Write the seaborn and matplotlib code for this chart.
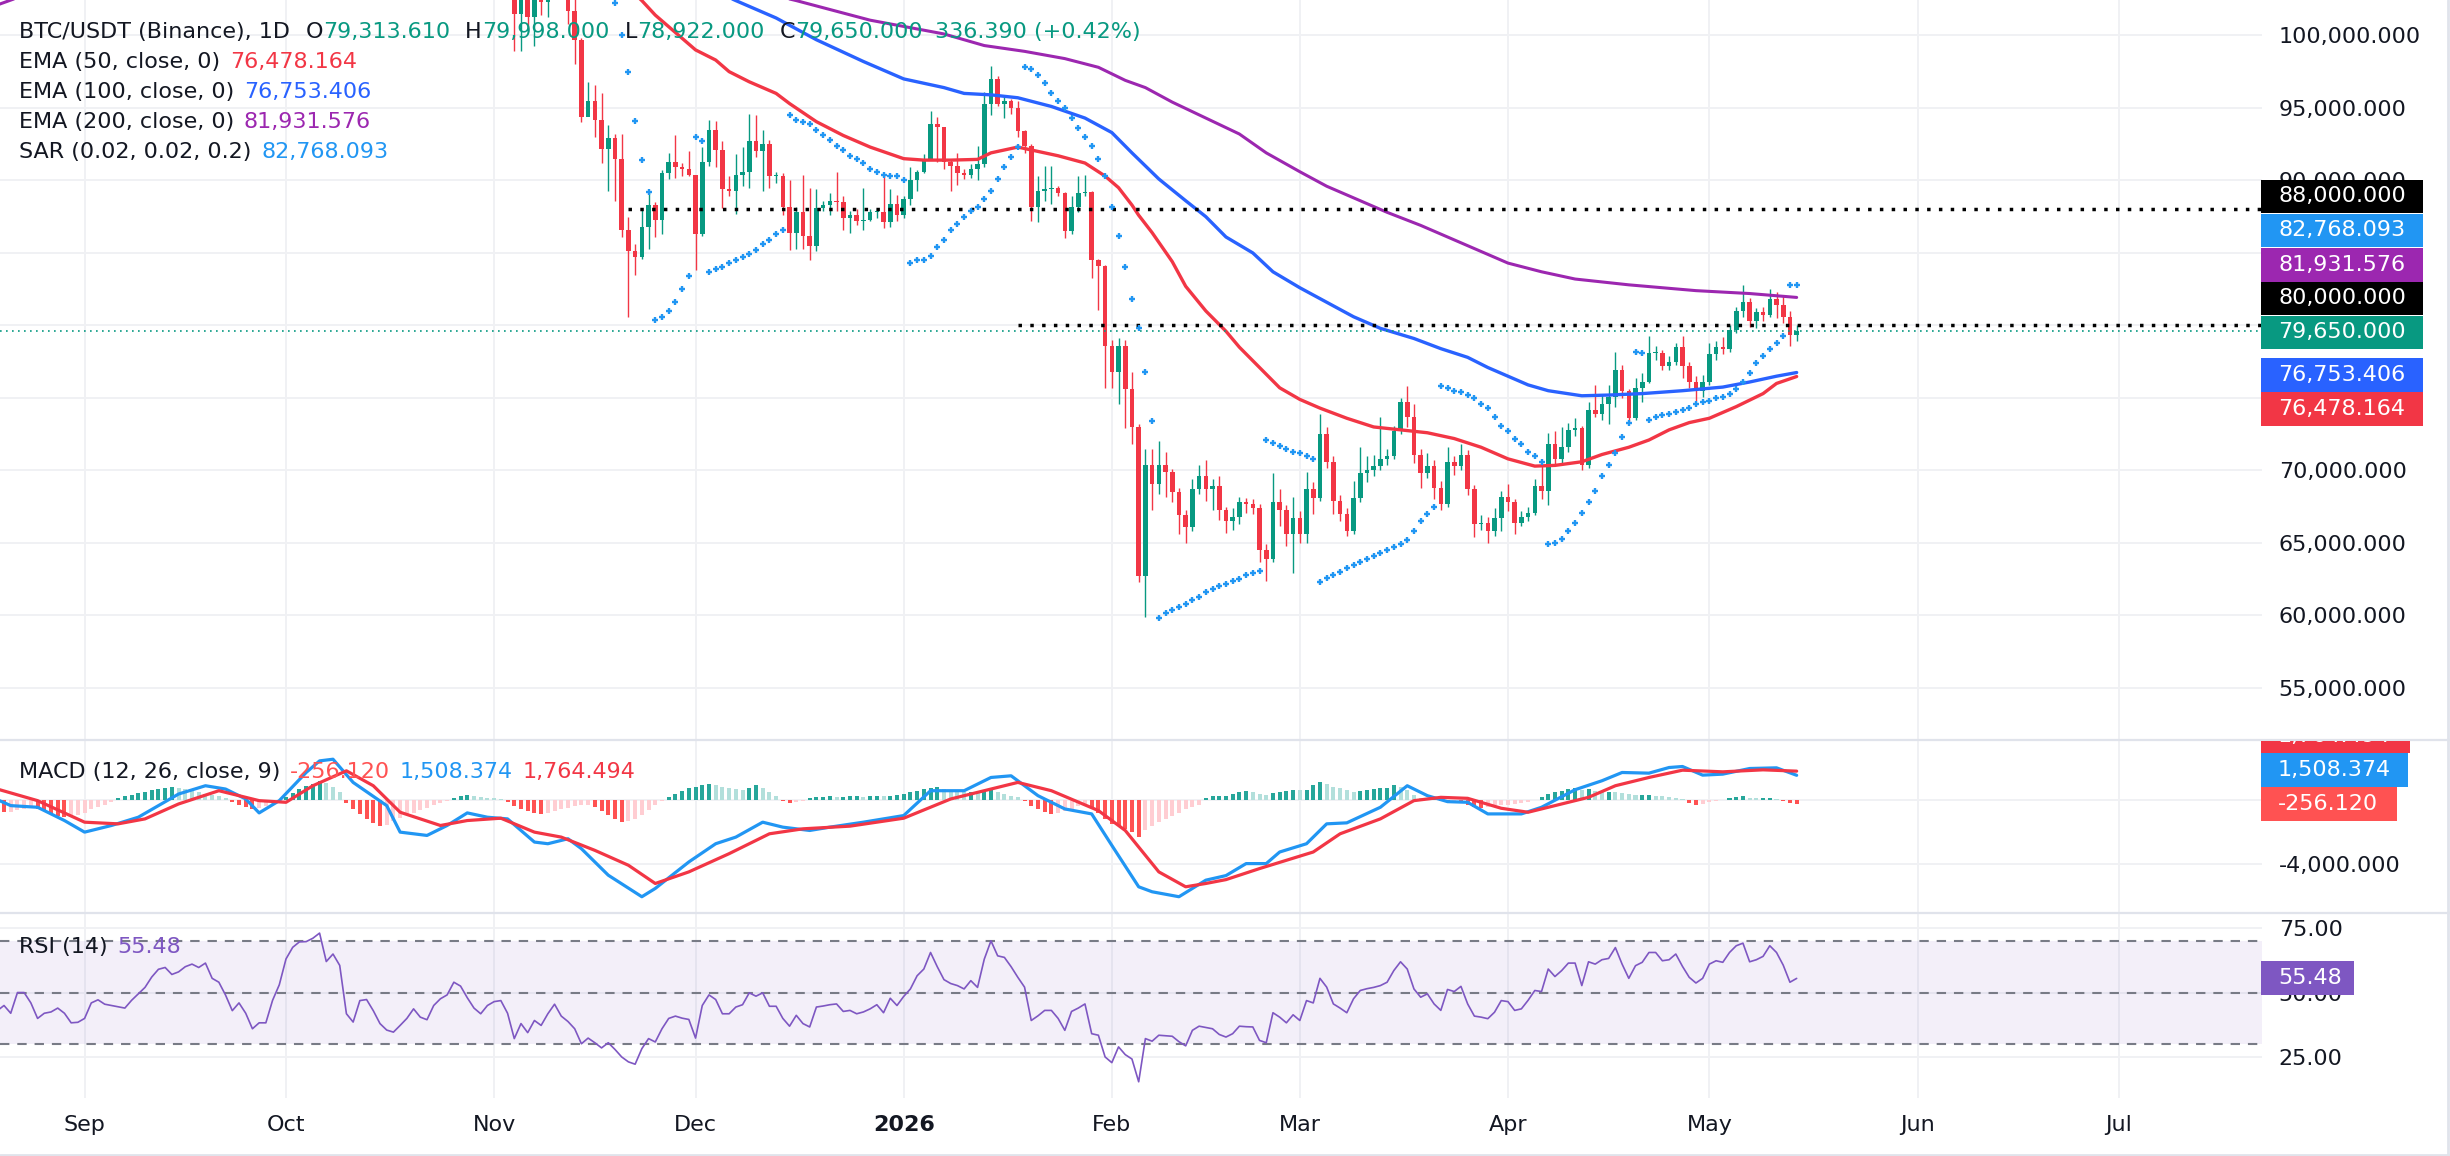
import numpy as np
import pandas as pd
import matplotlib
matplotlib.use("Agg")
import matplotlib.pyplot as plt
import matplotlib.dates as mdates
from matplotlib.patches import Rectangle
from matplotlib.lines import Line2D
from matplotlib.ticker import FuncFormatter
from matplotlib.transforms import Bbox
import seaborn as sns

# ---------------- data (prices in thousands of USDT) ----------------
bar_start = "2025-11-04"
first_open = 106.6
close_k = [
    # Nov 4-30
    101.5, 103.9, 101.3, 103.3, 102.3, 104.7, 106.0, 103.1, 101.7, 99.7, 94.4, 95.5, 94.2, 92.2,
    92.9, 91.5, 86.6, 85.1, 84.7, 86.8, 88.3, 87.3, 90.5, 91.3, 90.9, 90.8, 90.4,
    # Dec
    86.3, 91.3, 93.5, 92.1, 89.4, 89.3, 90.4, 90.6, 92.7, 92.0, 92.5, 90.3, 90.3, 88.2, 86.4, 87.8,
    86.2, 85.5, 88.1, 88.3, 88.6, 88.5, 87.4, 87.6, 87.2, 87.3, 87.8, 87.8, 87.1, 88.4, 87.6,
    # Jan
    88.7, 90.0, 90.6, 91.5, 93.9, 93.7, 91.3, 91.0, 90.5, 90.4, 90.8, 91.1, 95.3, 97.0, 95.3, 95.5,
    95.0, 93.4, 92.4, 88.2, 89.3, 89.4, 89.5, 89.1, 86.5, 88.2, 89.1, 89.2, 84.5, 84.1, 78.6,
    # Feb
    76.8, 78.6, 75.6, 73.0, 62.7, 70.4, 69.1, 70.4, 69.9, 68.5, 66.9, 66.1, 68.7, 69.6, 68.7, 68.9,
    67.3, 66.5, 66.8, 67.8, 67.7, 67.4, 64.5, 63.9, 67.8, 67.3, 65.6, 66.7,
    # Mar
    65.6, 68.7, 68.1, 72.5, 70.6, 67.9, 67.0, 65.8, 68.1, 69.8, 70.0, 70.3, 70.8, 71.0, 72.7, 74.7,
    73.7, 71.1, 69.8, 70.3, 68.8, 67.7, 70.6, 70.3, 71.1, 68.7, 66.3, 66.4, 65.8, 66.7, 68.2,
    # Apr
    67.8, 66.4, 66.8, 67.1, 68.9, 68.6, 71.8, 70.8, 71.6, 72.8, 72.9, 70.4, 74.2, 73.9, 74.6, 75.1,
    76.9, 75.5, 73.6, 75.7, 76.1, 78.1, 78.1, 77.2, 77.5, 78.5, 77.2, 76.1, 75.5, 76.1,
    # May
    78.0, 78.5, 78.4, 79.7, 81.0, 81.6, 80.3, 80.9, 80.7, 81.8, 81.4, 80.6, 79.31361, 79.65,
]
high_k = [
    107.3, 104.5, 104.2, 104.1, 103.4, 105.0, 106.7, 107.5, 105.3, 104.1, 99.8, 96.8, 96.6, 96.0,
    93.8, 93.2, 93.2, 87.5, 85.6, 88.0, 89.2, 88.5, 90.7, 91.9, 93.1, 91.2, 92.0,
    90.4, 92.3, 94.2, 94.1, 92.7, 90.3, 91.8, 92.3, 94.6, 94.5, 93.5, 92.8, 90.6, 90.5, 90.0, 88.2,
    90.4, 89.5, 89.4, 88.6, 89.1, 90.6, 88.9, 87.9, 88.0, 89.5, 88.0, 88.0, 90.4, 89.4, 89.0,
    88.9, 90.9, 90.7, 91.8, 94.8, 94.4, 93.7, 91.5, 91.9, 90.8, 91.1, 92.4, 96.1, 97.9, 97.2, 95.9,
    95.6, 95.5, 93.5, 92.5, 90.3, 91.0, 91.0, 89.6, 89.2, 88.9, 90.3, 90.4, 89.3, 84.6, 84.2,
    79.0, 79.1, 79.0, 76.8, 73.2, 71.5, 71.5, 72.0, 71.3, 70.1, 68.8, 67.3, 69.4, 70.4, 70.7, 69.4,
    69.6, 67.5, 67.4, 68.2, 68.1, 68.0, 67.7, 64.9, 69.8, 68.7, 67.6, 68.2,
    67.2, 69.9, 69.2, 73.9, 73.0, 71.0, 68.3, 67.4, 69.3, 71.6, 71.0, 71.1, 73.7, 71.5, 73.1, 75.0,
    75.8, 74.6, 71.5, 71.2, 70.7, 69.3, 71.6, 71.0, 71.8, 71.4, 69.0, 66.9, 66.8, 67.4, 68.6,
    69.1, 68.0, 67.2, 67.5, 69.4, 70.3, 72.6, 72.7, 73.0, 73.3, 73.6, 73.1, 74.75, 75.9, 75.2, 75.9,
    78.2, 77.3, 75.6, 76.4, 76.7, 79.3, 78.6, 78.3, 77.9, 78.8, 79.3, 77.5, 76.5, 76.6,
    78.8, 78.9, 79.2, 80.0, 81.3, 82.77, 81.9, 81.2, 81.3, 82.5, 82.3, 82.1, 81.0, 79.998,
]
low_k = [
    98.9, 98.9, 100.3, 99.3, 101.4, 101.3, 104.3, 102.5, 100.8, 98.0, 94.0, 94.5, 93.0, 91.2,
    89.3, 88.6, 86.1, 80.6, 83.5, 84.6, 85.3, 86.1, 86.3, 90.1, 90.2, 90.3, 90.3,
    83.8, 86.2, 91.0, 90.9, 88.1, 88.9, 87.7, 89.6, 89.5, 91.6, 89.3, 89.5, 89.8, 87.6, 85.2, 85.3,
    85.3, 84.5, 85.1, 87.9, 87.6, 87.9, 86.6, 86.4, 86.9, 86.6, 87.2, 87.4, 86.7, 86.8, 87.2,
    87.4, 88.3, 89.3, 90.5, 91.5, 91.3, 90.8, 89.3, 89.7, 90.1, 90.2, 90.0, 90.9, 94.5, 95.1, 94.3,
    94.6, 93.0, 91.9, 87.2, 87.1, 88.6, 88.4, 88.9, 86.0, 86.3, 87.8, 88.9, 83.3, 81.05, 75.7,
    75.7, 74.6, 72.9, 71.8, 62.3, 59.9, 67.3, 68.4, 68.2, 67.8, 65.6, 65.0, 65.8, 68.4, 67.9, 67.3,
    66.6, 65.7, 65.9, 66.3, 67.1, 67.0, 63.7, 62.4, 63.7, 66.2, 64.8, 62.9,
    65.0, 65.0, 67.0, 67.9, 70.2, 67.0, 66.5, 65.5, 65.6, 67.8, 69.2, 69.6, 70.0, 70.4, 70.8, 72.5,
    73.0, 70.5, 68.8, 69.5, 68.0, 67.3, 67.5, 69.7, 70.0, 68.3, 65.4, 65.9, 65.0, 65.5, 65.8,
    67.2, 65.6, 66.2, 66.5, 66.9, 68.0, 67.6, 70.4, 70.4, 71.3, 72.4, 70.0, 70.2, 73.7, 73.5, 73.2,
    74.4, 75.0, 73.4, 73.5, 74.7, 76.0, 77.6, 76.9, 76.9, 77.3, 76.4, 75.7, 74.8, 75.1,
    75.9, 77.6, 78.0, 78.2, 79.5, 80.6, 79.9, 79.8, 80.3, 80.6, 80.5, 80.2, 78.6, 78.922,
]

sar_start = "2025-11-19"
sar_k = [
    102.2, 100.0, 97.5, 94.1, 91.4, 89.2, 80.4, 80.6, 81.0, 81.6, 82.5, 83.4,
    93.0, 92.7, 83.7, 83.9, 84.0, 84.3, 84.5, 84.7, 84.9, 85.2, 85.6, 85.9, 86.3, 86.6,
    94.5, 94.2, 94.0, 93.9, 93.5, 93.1, 92.8, 92.4, 92.1, 91.7, 91.5, 91.2, 90.8, 90.6, 90.4, 90.3, 90.3,
    90.0, 84.3, 84.5, 84.5, 84.8, 85.4, 85.9, 86.6, 87.0, 87.5, 87.9, 88.2, 88.7, 89.3, 90.1, 90.9,
    91.6, 92.3, 97.8, 97.7, 97.3, 96.7, 96.0, 95.5, 95.0, 94.3, 93.6, 93.0, 92.4, 91.5, 90.3,
    88.2, 86.2, 84.0, 81.8, 79.8, 76.8, 73.4, 59.8, 60.2, 60.4, 60.6, 60.8, 61.1, 61.3, 61.6, 61.8,
    62.0, 62.2, 62.4, 62.5, 62.8, 62.9, 63.1, 72.1, 71.9, 71.7, 71.5, 71.3,
    71.2, 71.0, 70.8, 62.3, 62.6, 62.8, 63.0, 63.3, 63.5, 63.7, 63.9, 64.1, 64.3, 64.5, 64.7, 64.9,
    65.2, 65.8, 66.5, 67.0, 67.5, 75.8, 75.7, 75.5, 75.4, 75.2, 75.0, 74.6, 74.3, 73.7, 73.1,
    72.7, 72.2, 71.8, 71.3, 71.0, 70.6, 64.9, 65.0, 65.3, 65.8, 66.4, 67.1, 67.8, 68.6, 69.6, 70.4,
    71.2, 72.3, 73.3, 78.2, 78.1, 73.5, 73.7, 73.8, 73.9, 74.0, 74.2, 74.3, 74.6, 74.7,
    74.8, 75.0, 75.1, 75.3, 75.6, 76.1, 76.7, 77.4, 77.9, 78.4, 78.8, 79.3, 82.8, 82.768,
]

ema50_dates = ["2025-08-19", "2025-10-01", "2025-10-25", "2025-11-05", "2025-11-15", "2025-11-23",
               "2025-11-25", "2025-12-01", "2025-12-04", "2025-12-06", "2025-12-09", "2025-12-13",
               "2025-12-15", "2025-12-19", "2025-12-23", "2025-12-27", "2026-01-01", "2026-01-04",
               "2026-01-08", "2026-01-12", "2026-01-14", "2026-01-18", "2026-01-24", "2026-01-28",
               "2026-01-31", "2026-02-02", "2026-02-04", "2026-02-05", "2026-02-07", "2026-02-10",
               "2026-02-12", "2026-02-15", "2026-02-18", "2026-02-20", "2026-02-23", "2026-02-26",
               "2026-03-01", "2026-03-04", "2026-03-08", "2026-03-12", "2026-03-16", "2026-03-20",
               "2026-03-24", "2026-03-28", "2026-04-01", "2026-04-05", "2026-04-08", "2026-04-12",
               "2026-04-15", "2026-04-19", "2026-04-22", "2026-04-25", "2026-04-28", "2026-05-01",
               "2026-05-05", "2026-05-09", "2026-05-11", "2026-05-14"]
ema50_k = [113.5, 113.8, 112.5, 110.0, 105.8, 102.4, 101.4, 99.0, 98.3, 97.5, 96.8, 96.0, 95.3,
           94.05, 93.1, 92.3, 91.5, 91.4, 91.4, 91.45, 91.9, 92.3, 91.7, 91.2, 90.3, 89.5, 88.3,
           87.6, 86.4, 84.4, 82.7, 81.0, 79.6, 78.5, 77.1, 75.7, 74.9, 74.3, 73.6, 73.0, 72.8, 72.6,
           72.2, 71.6, 70.8, 70.3, 70.35, 70.6, 71.1, 71.6, 72.1, 72.8, 73.3, 73.6, 74.4, 75.3,
           76.0, 76.478]

ema100_dates = ["2025-08-19", "2025-10-01", "2025-11-01", "2025-11-20", "2025-12-07", "2025-12-13",
                "2025-12-19", "2025-12-26", "2026-01-01", "2026-01-07", "2026-01-10", "2026-01-14",
                "2026-01-18", "2026-01-23", "2026-01-28", "2026-02-01", "2026-02-04", "2026-02-08",
                "2026-02-12", "2026-02-15", "2026-02-18", "2026-02-22", "2026-02-25", "2026-03-01",
                "2026-03-05", "2026-03-09", "2026-03-13", "2026-03-18", "2026-03-22", "2026-03-26",
                "2026-03-29", "2026-04-01", "2026-04-04", "2026-04-07", "2026-04-12", "2026-04-16",
                "2026-04-21", "2026-04-27", "2026-05-03", "2026-05-07", "2026-05-11", "2026-05-14"]
ema100_k = [109.0, 111.0, 111.0, 106.0, 102.4, 101.2, 99.7, 98.2, 97.0, 96.4, 96.0, 95.9, 95.7,
            95.1, 94.3, 93.3, 91.9, 90.1, 88.6, 87.5, 86.1, 85.0, 83.7, 82.6, 81.6, 80.6, 79.8,
            79.1, 78.4, 77.8, 77.1, 76.5, 75.9, 75.5, 75.15, 75.2, 75.3, 75.5, 75.75, 76.1, 76.5,
            76.753]

ema200_dates = ["2025-08-19", "2025-08-22", "2025-09-20", "2025-10-20", "2025-11-15", "2025-12-05",
                "2025-12-16", "2025-12-27", "2026-01-07", "2026-01-13", "2026-01-19", "2026-01-25",
                "2026-01-30", "2026-02-03", "2026-02-06", "2026-02-10", "2026-02-15", "2026-02-20",
                "2026-02-24", "2026-03-01", "2026-03-05", "2026-03-10", "2026-03-14", "2026-03-19",
                "2026-03-23", "2026-03-28", "2026-04-01", "2026-04-06", "2026-04-11", "2026-04-19",
                "2026-04-29", "2026-05-07", "2026-05-14"]
ema200_k = [102.1, 102.6, 104.5, 106.8, 106.5, 103.6, 102.4, 101.05, 100.1, 99.3, 98.9, 98.4, 97.8,
            96.9, 96.4, 95.4, 94.3, 93.2, 91.9, 90.6, 89.6, 88.6, 87.8, 86.9, 86.1, 85.1, 84.3,
            83.7, 83.2, 82.8, 82.4, 82.2, 81.932]

# daily oscillators, Aug 19 2025 .. May 14 2026
osc_start = "2025-08-19"
rsi = [
    43, 45, 42, 50, 50, 46, 40, 42, 42.5, 44, 42, 38.3, 38.5,
    40, 46, 47.2, 45.5, 45, 44.5, 44, 47, 49.5, 52, 56, 59, 59.7, 57, 58, 60, 61, 59.7, 61.4, 55.5,
    54, 49, 43, 46, 42, 36, 38.3, 38.3, 47, 53,
    63, 67.5, 69.6, 69.7, 71, 73, 62, 64.9, 60.5, 41.8, 38.6, 46.9, 47.3, 43, 38, 35.5, 34.7, 37.3,
    40, 43.7, 40.5, 39.5, 45, 47.6, 49.1, 54, 52.5, 48, 44, 41.8, 45,
    46.5, 46.9, 42, 32.2, 38, 34.5, 39.2, 37.3, 41.8, 45.5, 40.9, 38.8, 36, 30.2, 32.4, 30.6, 28.6,
    30.6, 28, 25.1, 23.2, 22.3, 28.3, 32.2, 30.9, 36, 40, 40.9, 40.1, 39.6,
    32.4, 45, 49.1, 47.3, 41.8, 41.8, 44.4, 45.3, 49.9, 48.6, 49.9, 44.7, 44.7, 40, 37, 41.2, 38,
    36.7, 44.4, 44.8, 45.3, 45.6, 42.7, 43.1, 41.8, 42.5, 43.7, 45.3, 42.2, 47.8, 45,
    48.5, 51.4, 56.5, 59.1, 65.5, 60, 55, 53.5, 52.7, 51.4, 54.6, 52, 62.9, 70.0, 64.2, 63.6, 60,
    55.9, 52.1, 39.2, 41, 43.1, 43.1, 40, 35.4, 42.7, 44, 45.6, 34.1, 33.5, 25.1,
    22.9, 29, 26, 24.3, 15.5, 32.2, 31.2, 33.5, 33.3, 33.1, 31, 29.4, 35.4, 37, 36.5, 36, 33.8,
    32.8, 34.1, 37, 36.8, 36.7, 31.5, 30.6, 42.2, 40.5, 38.3, 41.4,
    39.2, 46.9, 46, 55.5, 52.1, 45.6, 44, 42.2, 47.6, 50.8, 51.5, 52, 52.7, 54, 58.5, 61.9, 59.1,
    51.4, 48.2, 49.5, 45.6, 43.1, 51.2, 50.4, 52.4, 45.6, 40.9, 40.5, 39.9, 42.4, 46.9,
    46.5, 43.1, 43.7, 47, 50.8, 50.4, 59.1, 56.2, 58.5, 61.4, 61.4, 52.7, 61.9, 61, 62.7, 63.2,
    67.4, 61, 55.5, 60.4, 61.7, 65.5, 65.5, 62.3, 62.7, 64.9, 60.1, 55.9, 53.7, 55.5,
    61, 62.3, 61.7, 65.5, 68.1, 69.1, 61.9, 62.7, 64, 68.1, 65.5, 60.6, 54, 55.48,
]
macd_hist = [
    -700, -780, -760, -650, -550, -500, -600, -700, -900, -1000, -1100, -1050, -950,
    -800, -600, -450, -300, -150, 100, 200, 300, 400, 500, 600, 650, 700, 760, 720, 650, 550, 450,
    350, 280, 200, 100, -150, -300, -450, -570, -500, -380, -250, -100,
    150, 400, 650, 850, 1000, 1170, 1050, 800, 450, -200, -600, -900, -1200, -1450, -1600, -1550,
    -1350, -1150, -950, -800, -650, -500, -350, -220, -100, 100, 200, 300, 250, 150, 100,
    80, 50, -150, -400, -550, -700, -800, -880, -800, -700, -600, -500, -400, -350, -300, -450,
    -700, -950, -1200, -1400, -1350, -1200, -950, -650, -350, -100, 150, 350, 550, 700,
    800, 880, 960, 900, 800, 700, 650, 600, 700, 900, 750, 500, 250, -100, -200, -150, -100, 100,
    150, 150, 200, 150, 150, 200, 200, 150, 200, 250, 200, 250, 300,
    350, 450, 550, 650, 700, 760, 650, 600, 550, 500, 500, 450, 550, 600, 450, 350, 250, 150,
    -100, -400, -600, -750, -880, -800, -700, -550, -400, -300, -500, -800, -1200,
    -1500, -1600, -1800, -2000, -2300, -1900, -1600, -1400, -1200, -1000, -800, -600, -450, -300,
    100, 200, 250, 250, 350, 450, 550, 500, 350, 300, 400, 500, 550, 600,
    580, 620, 900, 1100, 950, 800, 700, 600, 500, 550, 600, 650, 700, 750, 900, 800, 600, 300,
    100, -50, 50, -100, -150, -100, -200, -350, -450, -500, -450, -350, -300,
    -300, -250, -200, -150, -50, 150, 350, 450, 550, 650, 700, 600, 650, 550, 500, 500, 450, 400,
    350, 300, 300, 300, 250, 200, 150, 100, 50, -200, -300, -250,
    -150, -100, -50, 100, 150, 200, 100, 80, 80, 100, 50, -100, -200, -256.12,
]

macd_dates = ["2025-08-19", "2025-08-21", "2025-08-25", "2025-08-29", "2025-09-01", "2025-09-05",
              "2025-09-09", "2025-09-15", "2025-09-19", "2025-09-22", "2025-09-25", "2025-09-27",
              "2025-09-30", "2025-10-04", "2025-10-06", "2025-10-08", "2025-10-11", "2025-10-16",
              "2025-10-18", "2025-10-22", "2025-10-25", "2025-10-28", "2025-10-31", "2025-11-03",
              "2025-11-07", "2025-11-09", "2025-11-12", "2025-11-14", "2025-11-18", "2025-11-23",
              "2025-11-25", "2025-11-30", "2025-12-04", "2025-12-07", "2025-12-11", "2025-12-14",
              "2025-12-18", "2025-12-21", "2025-12-26", "2026-01-01", "2026-01-05", "2026-01-10",
              "2026-01-14", "2026-01-17", "2026-01-21", "2026-01-25", "2026-01-29", "2026-02-01",
              "2026-02-05", "2026-02-07", "2026-02-11", "2026-02-15", "2026-02-18", "2026-02-21",
              "2026-02-24", "2026-02-26", "2026-03-02", "2026-03-05", "2026-03-08", "2026-03-13",
              "2026-03-17", "2026-03-20", "2026-03-23", "2026-03-26", "2026-03-29", "2026-04-03",
              "2026-04-06", "2026-04-11", "2026-04-15", "2026-04-18", "2026-04-22", "2026-04-25",
              "2026-04-27", "2026-04-30", "2026-05-03", "2026-05-07", "2026-05-11", "2026-05-14"]
macd_line = [0, -369, -471, -1292, -2010, -1599, -1087, 349, 862, 657, 42, -820, -61, 1682, 2400,
             2503, 1067, -369, -2010, -2215, -1599, -820, -1087, -1190, -2625, -2728, -2420, -3036,
             -4676, -6009, -5496, -3856, -2728, -2318, -1394, -1702, -1907, -1702, -1394, -984, 554,
             554, 1374, 1477, 247, -574, -882, -2830, -5394, -5702, -6009, -4984, -4700, -3958,
             -3958, -3240, -2728, -1497, -1435, -471, 862, 247, -123, -164, -882, -882, -471, 616,
             1170, 1682, 1641, 1990, 2052, 1518, 1580, 1928, 1970, 1508.374]

signal_dates = ["2025-08-19", "2025-08-25", "2025-09-01", "2025-09-06", "2025-09-10", "2025-09-15",
                "2025-09-21", "2025-09-27", "2025-10-01", "2025-10-05", "2025-10-10", "2025-10-14",
                "2025-10-18", "2025-10-24", "2025-10-28", "2025-11-02", "2025-11-07", "2025-11-11",
                "2025-11-16", "2025-11-21", "2025-11-25", "2025-11-30", "2025-12-06", "2025-12-12",
                "2025-12-17", "2025-12-24", "2026-01-01", "2026-01-08", "2026-01-14", "2026-01-18",
                "2026-01-23", "2026-01-30", "2026-02-03", "2026-02-08", "2026-02-12", "2026-02-15",
                "2026-02-18", "2026-02-23", "2026-03-03", "2026-03-07", "2026-03-13", "2026-03-18",
                "2026-03-22", "2026-03-26", "2026-03-31", "2026-04-04", "2026-04-08", "2026-04-13",
                "2026-04-17", "2026-04-22", "2026-04-27", "2026-05-03", "2026-05-09", "2026-05-14"]
signal_line = [657, -61, -1394, -1497, -1190, -266, 554, -61, -164, 862, 1785, 862, -779, -1599,
               -1292, -1148, -2010, -2318, -3138, -4061, -5189, -4471, -3343, -2113, -1805, -1640,
               -1148, 42, 657, 1067, 554, -676, -1907, -4471, -5394, -5189, -4950, -4266, -3240,
               -2113, -1190, -61, 144, 83, -533, -779, -369, 144, 862, 1374, 1825, 1723, 1846,
               1764.494]

# user drawn levels and last values shown in the legend / on the axis
level_hi, level_hi_from = 88000, "2025-11-21"
level_lo, level_lo_from = 80000, "2026-01-18"
last_ohlc = [79313.61, 79998.0, 78922.0, 79650.0]
last_change, last_change_pct = 336.39, 0.42
ema_last = {"50": 76478.164, "100": 76753.406, "200": 81931.576}
sar_last = 82768.093
month_labels = ["Sep", "Oct", "Nov", "Dec", "2026", "Feb", "Mar", "Apr", "May", "Jun", "Jul"]

assert len(high_k) == len(close_k) == len(low_k)
assert len(rsi) == len(macd_hist)
assert len(macd_dates) == len(macd_line) and len(signal_dates) == len(signal_line)

# ---------------- colours ----------------
UP, DOWN = "#089981", "#F23645"
C_EMA50, C_EMA100, C_EMA200, C_SAR = "#F23645", "#2962FF", "#9C27B0", "#2196F3"
C_MACD, C_SIG = "#2196F3", "#F23645"
C_RSI = "#7E57C2"
GRID = "#F0F1F4"
TXT = "#131722"

sns.set_theme(style="white")
plt.rcParams["font.family"] = ["DejaVu Sans"]

W, H = 2450, 1156
PLOT_RIGHT = 2262
OCT1_PX, PX_PER_DAY = 286, 6.714

fig = plt.figure(figsize=(W / 100, H / 100), dpi=100, facecolor="white")


def panel(top, bottom, sharex=None):
    a = fig.add_axes([0, 1 - bottom / H, PLOT_RIGHT / W, (bottom - top) / H], sharex=sharex)
    a.set_facecolor("white")
    for s in a.spines.values():
        s.set_visible(False)
    return a


ax = panel(0, 739)
axm = panel(741, 912, sharex=ax)
axr = panel(914, 1098, sharex=ax)

oct1 = mdates.date2num(pd.Timestamp("2025-10-01"))
ax.set_xlim(oct1 - OCT1_PX / PX_PER_DAY, oct1 + (PLOT_RIGHT - OCT1_PX) / PX_PER_DAY)
months = [mdates.date2num(d) for d in pd.date_range("2025-09-01", periods=11, freq="MS")]
for a in (ax, axm, axr):
    a.set_xticks(months)
    a.grid(True, axis="both", color=GRID, linewidth=1.4, zorder=0)
    a.set_axisbelow(True)
    a.yaxis.tick_right()
    a.tick_params(axis="y", length=0, pad=12, labelsize=16, labelcolor=TXT)
    a.tick_params(axis="x", length=0)
ax.tick_params(axis="x", labelbottom=False)
axm.tick_params(axis="x", labelbottom=False)
axr.set_xticklabels(month_labels)
axr.tick_params(axis="x", labelsize=16, labelcolor=TXT, pad=12)
for lab in axr.get_xticklabels():
    if lab.get_text() == "2026":
        lab.set_fontweight("bold")

# ---------------- main price panel ----------------
bar_dates = pd.date_range(bar_start, periods=len(close_k), freq="D")
bx = mdates.date2num(bar_dates)
close = np.array(close_k) * 1000
high = np.array(high_k) * 1000
low = np.array(low_k) * 1000
open_ = np.concatenate([[first_open * 1000], close[:-1]])
cols = np.where(close >= open_, UP, DOWN)
ax.vlines(bx, low, high, colors=cols, linewidth=1.0, zorder=2)
ax.bar(bx, np.maximum(np.abs(close - open_), 70), bottom=np.minimum(open_, close),
       width=0.68, color=cols, linewidth=0, zorder=2)

for dts, vals, c, lw in [(ema200_dates, ema200_k, C_EMA200, 2.2),
                         (ema100_dates, ema100_k, C_EMA100, 2.4),
                         (ema50_dates, ema50_k, C_EMA50, 2.4)]:
    sns.lineplot(x=mdates.date2num(pd.to_datetime(dts)), y=np.array(vals) * 1000, ax=ax,
                 color=c, linewidth=lw, zorder=3, legend=False)

sar_dates = pd.date_range(sar_start, periods=len(sar_k), freq="D")
sns.scatterplot(x=mdates.date2num(sar_dates), y=np.array(sar_k) * 1000, ax=ax, marker="+",
                s=22, linewidth=1.7, color=C_SAR, zorder=4, legend=False)

xmax = ax.get_xlim()[1]
ax.hlines(level_hi, mdates.date2num(pd.Timestamp(level_hi_from)), xmax, color="black",
          linewidth=2.5, linestyles=(0, (1, 2.4)), zorder=3)
ax.hlines(level_lo, mdates.date2num(pd.Timestamp(level_lo_from)), xmax, color="black",
          linewidth=2.5, linestyles=(0, (1, 2.4)), zorder=3)
ax.axhline(last_ohlc[3], color=UP, linewidth=1.2, linestyle=(0, (1, 2.6)), zorder=3)

# price labels hidden behind the badges are left blank (the grid line stays)
hidden_price_labels = {75000, 80000, 85000}
ax.set_ylim(51483, 102441)
ax.set_yticks(range(55000, 100001, 5000))
ax.yaxis.set_major_formatter(
    FuncFormatter(lambda v, p: "" if round(v) in hidden_price_labels else f"{v:,.3f}"))
ax.set_xlabel("")
ax.set_ylabel("")

# ---------------- MACD panel ----------------
osc_dates = pd.date_range(osc_start, periods=len(rsi), freq="D")
ox = mdates.date2num(osc_dates)
hist = np.array(macd_hist, dtype=float)
prev = np.concatenate([[hist[0]], hist[:-1]])
hcols = np.where(hist >= 0, np.where(hist >= prev, "#26A69A", "#B2DFDB"),
                 np.where(hist < prev, "#FF5252", "#FFCDD2"))
axm.bar(ox, hist, width=0.6, color=hcols, linewidth=0, zorder=2)
sns.lineplot(x=mdates.date2num(pd.to_datetime(macd_dates)), y=macd_line, ax=axm, color=C_MACD,
             linewidth=2.3, zorder=3, legend=False)
sns.lineplot(x=mdates.date2num(pd.to_datetime(signal_dates)), y=signal_line, ax=axm, color=C_SIG,
             linewidth=2.3, zorder=3, legend=False)
axm.set_ylim(-6954, 3631)
axm.set_yticks([-4000, 0])
axm.yaxis.set_major_formatter(FuncFormatter(lambda v, p: "" if v == 0 else f"{v:,.3f}"))
axm.set_xlabel("")
axm.set_ylabel("")

# ---------------- RSI panel ----------------
axr.axhspan(30, 70, color=C_RSI, alpha=0.09, linewidth=0, zorder=1)
for lvl in (70, 50, 30):
    axr.axhline(lvl, color="#787B86", linewidth=1.5, linestyle=(0, (4.5, 3.8)), zorder=2)
sns.lineplot(x=ox, y=rsi, ax=axr, color=C_RSI, linewidth=1.2, zorder=3, legend=False)
axr.set_ylim(9.23, 80.38)
axr.set_yticks([25, 50, 75])
axr.yaxis.set_major_formatter(FuncFormatter(lambda v, p: f"{v:.2f}"))
axr.set_xlabel("")
axr.set_ylabel("")
axr.set_xlim(ax.get_xlim())

# ---------------- panel separators & frame ----------------
for y in (740, 913):
    fig.add_artist(Line2D([0, 1], [1 - y / H, 1 - y / H], color="#E0E3EB", linewidth=1.6))
fig.add_artist(Line2D([0, 1], [1 - 1155 / H, 1 - 1155 / H], color="#E0E3EB", linewidth=2))
fig.add_artist(Line2D([2448 / W, 2448 / W], [0, 1], color="#E0E3EB", linewidth=2))


# ---------------- axis badges ----------------
def badge(yc, text, color, x1=2423, h=33.5, clip_top=None):
    top = yc - h / 2
    if clip_top is not None:
        top = max(top, clip_top)
    fig.add_artist(Rectangle((2261 / W, 1 - (yc + h / 2) / H), (x1 - 2261) / W,
                             (yc + h / 2 - top) / H, transform=fig.transFigure,
                             facecolor=color, edgecolor="none", zorder=5))
    t = fig.text(2278 / W, 1 - yc / H, text, color="white", fontsize=16, va="center",
                 ha="left", zorder=6)
    if clip_top is not None:
        t.set_clip_box(Bbox.from_extents(0, 0, W, H - clip_top))
        t.set_clip_on(True)


badge(196.5, f"{level_hi:,.3f}", "#000000")
badge(230.5, f"{sar_last:,.3f}", C_SAR)
badge(265, f"{ema_last['200']:,.3f}", C_EMA200)
badge(298.5, f"{level_lo:,.3f}", "#000000")
badge(332.5, f"{last_ohlc[3]:,.3f}", UP)
badge(375, f"{ema_last['100']:,.3f}", C_EMA100)
badge(409, f"{ema_last['50']:,.3f}", C_EMA50)
badge(736.5, f"{signal_line[-1]:,.3f}", C_SIG, x1=2410, clip_top=741)
badge(770, f"{macd_line[-1]:,.3f}", C_MACD, x1=2408)
badge(804, f"{macd_hist[-1]:,.3f}", "#FF5252", x1=2397)
badge(978, f"{rsi[-1]:.2f}", C_RSI, x1=2354)


# ---------------- legends ----------------
def legend_row(host, x, y, pieces, size=16):
    t = fig.text(x / W, 1 - y / H, pieces[0][0], color=pieces[0][1], fontsize=size,
                 va="center", ha="left", zorder=7)
    for s, c, gap in pieces[1:]:
        t = host.annotate(s, xy=(1, 0.5), xycoords=t, xytext=(gap, 0),
                          textcoords="offset points", color=c, fontsize=size, va="center",
                          ha="left", zorder=7, annotation_clip=False)
    return t


o, h_, l_, c_ = last_ohlc
legend_row(ax, 19, 32, [("BTC/USDT (Binance), 1D", TXT), ("O", TXT, 11), (f"{o:,.3f}", UP, 0),
                        ("H", TXT, 11), (f"{h_:,.3f}", UP, 0), ("L", TXT, 11),
                        (f"{l_:,.3f}", UP, 0), ("C", TXT, 11), (f"{c_:,.3f}", UP, 0),
                        (f"{last_change:,.3f} (+{last_change_pct:.2f}%)", UP, 9)])
legend_row(ax, 19, 62, [("EMA (50, close, 0)", TXT), (f"{ema_last['50']:,.3f}", C_EMA50, 7)])
legend_row(ax, 19, 92, [("EMA (100, close, 0)", TXT), (f"{ema_last['100']:,.3f}", C_EMA100, 7)])
legend_row(ax, 19, 122, [("EMA (200, close, 0)", TXT), (f"{ema_last['200']:,.3f}", C_EMA200, 7)])
legend_row(ax, 19, 152, [("SAR (0.02, 0.02, 0.2)", TXT), (f"{sar_last:,.3f}", C_SAR, 7)])
legend_row(axm, 19, 772, [("MACD (12, 26, close, 9)", TXT),
                          (f"{macd_hist[-1]:,.3f}", "#FF5252", 7),
                          (f"{macd_line[-1]:,.3f}", C_MACD, 7),
                          (f"{signal_line[-1]:,.3f}", C_SIG, 7)])
legend_row(axr, 19, 947, [("RSI (14)", TXT), (f"{rsi[-1]:.2f}", C_RSI, 7)])

fig.savefig("out.png", dpi=100, facecolor="white")
